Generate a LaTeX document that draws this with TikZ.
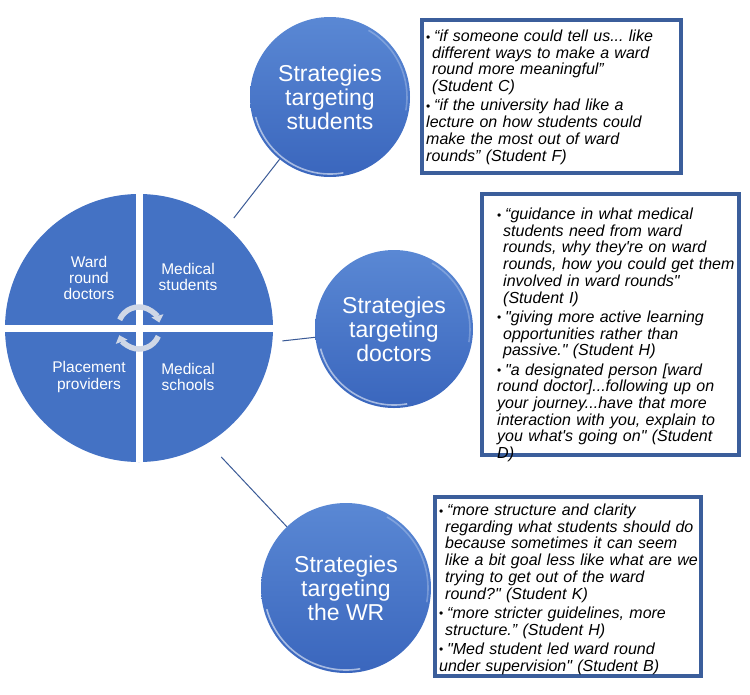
\documentclass[tikz,border=0pt]{standalone}
\usepackage{fontspec}
\setmainfont{Liberation Sans}[Ligatures=TeXOff]
\usetikzlibrary{arrows.meta}

\definecolor{pieblue}{HTML}{4472C4}
\definecolor{balltop}{HTML}{5A88D4}
\definecolor{ballbottom}{HTML}{3A66BD}
\definecolor{boxblue}{HTML}{3B5E9B}
\definecolor{linkblue}{HTML}{3A5A96}
\definecolor{cyclegray}{HTML}{CFD7E6}

% one bulleted quote, lines broken by hand
\newcommand{\qitem}[1]{\par\hangindent=6pt\hangafter=1\noindent
  \makebox[8pt][l]{\upshape\fontsize{12}{12}\selectfont\raisebox{0.5pt}{\textbullet}}#1}

\frenchspacing

\begin{document}
\begin{tikzpicture}[x=1pt, y=-1pt,
    pie/.style={circle, fill=pieblue, minimum size=268pt, inner sep=0pt},
    pielabel/.style={text=white, align=center, font=\fontsize{15.5}{16.3}\selectfont},
    ball/.style={circle, top color=balltop, bottom color=ballbottom, text=white,
      align=center, inner sep=0pt, font=\fontsize{23}{24}\selectfont},
    rim/.style={white, opacity=0.55, line width=1.6pt},
    link/.style={linkblue, line width=1pt},
    quotebox/.style={draw=boxblue, line width=4pt, fill=white, inner sep=0pt},
    quotetext/.style={anchor=north west, inner sep=0pt, text width=300pt,
      font=\itshape\fontsize{16}{16.7}\selectfont,
      execute at begin node={\setlength{\parskip}{2.6pt}}},
    cycle/.style={cyclegray, line width=5.5pt, -{Triangle[width=12pt,length=7pt]}}
  ]
    \useasboundingbox (0,0) rectangle (750,694);

    % Draw stakeholder pie
    \node[pie] (pie) at (139,328) {};
    \foreach \a/\b in {north/south, west/east}
      \draw[white, line width=7pt] (pie.\a) -- (pie.\b);

    \node[pielabel] (wrd) at (89,278) {Ward\\round\\doctors};
    \node[pielabel] (mst) at (188,277) {Medical\\students};
    \node[pielabel] (ppr) at (89,377) {Placement\\providers};
    \node[pielabel] (msc) at (188,377) {Medical\\schools};

    % Cycle arrows
    \draw[cycle] (pie.center) ++(203:21) arc[start angle=203, end angle=345, radius=21];
    \draw[cycle] (pie.center) ++(23:21) arc[start angle=23, end angle=160, radius=21];

    % Strategy circles
    \node[ball, minimum size=160pt] (ballS) at (330,97) {Strategies\\targeting\\students};
    \node[ball, minimum size=158pt] (ballD) at (394,329) {Strategies\\targeting\\doctors};
    \node[ball, minimum size=170pt] (ballR) at (346,588) {Strategies\\targeting\\the WR};

    \foreach \b/\r in {ballS/77, ballD/76, ballR/82} {
      \draw[rim] (\b.center) ++(165:\r) arc[start angle=165, end angle=80, radius=\r];
      \draw[rim, opacity=0.25] (\b.center) ++(-60:\r) arc[start angle=-60, end angle=10, radius=\r];
    }

    % Connectors
    \draw[link, shorten <=11pt] (pie.49.7) -- (ballS.231);
    \draw[link, shorten <=10pt] (pie.-6) -- (ballD.186);
    \draw[link, shorten <=19pt] (pie.-59) -- (ballR.134);

    % Quote boxes
    \node[quotebox, minimum width=259pt, minimum height=153pt] (boxS) at (551.5,96.5) {};
    \node[quotebox, minimum width=257pt, minimum height=261pt] (boxD) at (610.5,324.5) {};
    \node[quotebox, minimum width=266pt, minimum height=179pt] (boxR) at (568,586.5) {};

    \node[quotetext] (txtS) at (426,22) {%
      \qitem{“if someone could tell us... like\newline different ways to make a ward\newline
        round more meaningful”\newline (Student C)}%
      \qitem{“if the university had like a\newline lecture on how students could\newline
        make the most out of ward\newline rounds” (Student F)}};

    \node[quotetext] (txtD) at (497,200) {%
      \qitem{“guidance in what medical\newline students need from ward\newline
        rounds, why they're on ward\newline rounds, how you could get them\newline
        involved in ward rounds"\newline (Student I)}%
      \qitem{"giving more active learning\newline opportunities rather than\newline
        passive." (Student H)}%
      \qitem{"a designated person [ward\newline round doctor]...following up on\newline
        your journey...have that more\newline interaction with you, explain to\newline
        you what's going on" (Student\newline D)}};

    \node[quotetext] (txtR) at (439,496) {%
      \qitem{“more structure and clarity\newline regarding what students should do\newline
        because sometimes it can seem\newline like a bit goal less like what are we\newline
        trying to get out of the ward\newline round?" (Student K)}%
      \qitem{“more stricter guidelines, more\newline structure.” (Student H)}%
      \qitem{"Med student led ward round\newline under supervision" (Student B)}};
\end{tikzpicture}
\end{document}
